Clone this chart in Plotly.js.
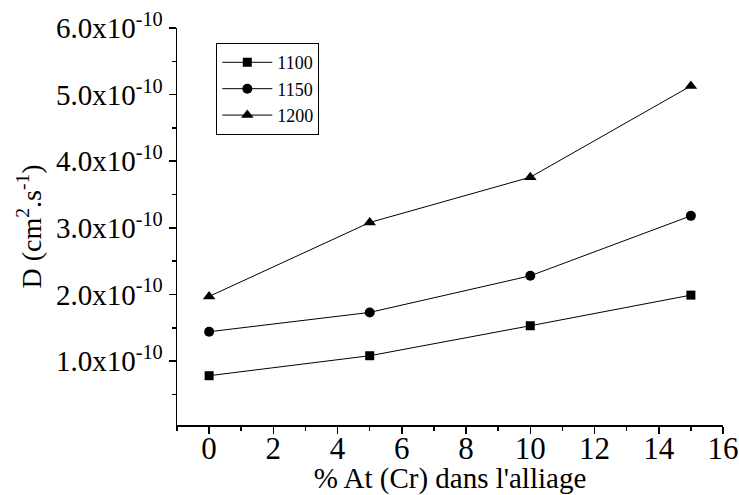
<!DOCTYPE html>
<html>
<head>
<meta charset="utf-8">
<script src="https://cdn.plot.ly/plotly-3.0.1.min.js"></script>
<style>body{margin:0;padding:0;background:#fff}#chart{width:739px;height:495px}</style>
</head>
<body>
<div id="chart"></div>
<script>
const xValues = [0, 5, 10, 15];
const series1100 = [0.78e-10, 1.08e-10, 1.53e-10, 1.99e-10];
const series1150 = [1.44e-10, 1.73e-10, 2.28e-10, 3.18e-10];
const series1200 = [1.97e-10, 3.08e-10, 3.76e-10, 5.13e-10];
const seriesNames = ['1100', '1150', '1200'];
const yTickVals = [1e-10, 2e-10, 3e-10, 4e-10, 5e-10, 6e-10];
const yTickText = ['1.0x10<sup>-10</sup>', '2.0x10<sup>-10</sup>', '3.0x10<sup>-10</sup>', '4.0x10<sup>-10</sup>', '5.0x10<sup>-10</sup>', '6.0x10<sup>-10</sup>'];

const font = 'Liberation Serif, Times New Roman, serif';
function tr(y, name, sym, size) {
  return {x: xValues, y: y, name: name, type: 'scatter', mode: 'lines+markers',
    line: {color: '#000', width: 1}, marker: {symbol: sym, size: size, color: '#000'}};
}
const data = [
  tr(series1100, seriesNames[0], 'square', 9),
  tr(series1150, seriesNames[1], 'circle', 10),
  tr(series1200, seriesNames[2], 'triangle-up', 11)
];
const layout = {
  width: 739, height: 495,
  margin: {l: 177, r: 16, t: 28, b: 70},
  paper_bgcolor: '#fff', plot_bgcolor: '#fff',
  font: {family: font, color: '#000'},
  showlegend: true,
  legend: {x: 0.072, y: 0.962, xanchor: 'left', yanchor: 'top', bordercolor: '#000', borderwidth: 1,
    bgcolor: '#fff', font: {size: 18, family: font}, tracegroupgap: 0, itemwidth: 50},
  xaxis: {range: [-1, 16], tickmode: 'linear', tick0: 0, dtick: 2, showgrid: false, zeroline: false,
    showline: true, linecolor: '#000', linewidth: 1.5, ticks: 'outside', ticklen: 7, tickwidth: 1.5, tickcolor: '#000',
    minor: {dtick: 1, tick0: 0, ticks: 'outside', ticklen: 4, tickwidth: 1.5, tickcolor: '#000', showgrid: false},
    tickfont: {size: 31, family: font}, ticklabelstandoff: -12,
    title: {text: "% At (Cr) dans l'alliage", font: {size: 29, family: font}, standoff: 0}},
  yaxis: {range: [0.04e-10, 6e-10], tickmode: 'array', tickvals: yTickVals, ticktext: yTickText,
    showgrid: false, zeroline: false, showline: true, linecolor: '#000', linewidth: 1.5,
    ticks: 'outside', ticklen: 7, tickwidth: 1.5, tickcolor: '#000',
    minor: {dtick: 0.5e-10, tick0: 0, ticks: 'outside', ticklen: 4, tickwidth: 1.5, tickcolor: '#000', showgrid: false},
    tickfont: {size: 29, family: font},
    title: {text: 'D (cm<sup>2</sup>.s<sup>-1</sup>)', font: {size: 28, family: font}, standoff: 6}}
};
Plotly.newPlot('chart', data, layout, {displayModeBar: false, staticPlot: true});
</script>
</body>
</html>
